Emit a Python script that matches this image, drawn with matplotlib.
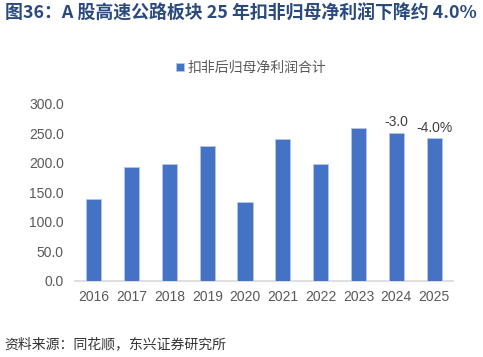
import numpy as np
import matplotlib.pyplot as plt

plt.rcParams['font.family'] = ['Noto Sans CJK SC', 'DejaVu Sans']

years = ['2016', '2017', '2018', '2019', '2020', '2021', '2022', '2023', '2024', '2025']
profit = [138, 193, 198, 229, 133.5, 241, 198, 259, 251, 242]
notes = {'2024': '-3.0', '2025': '-4.0%'}
yticks = [0, 50, 100, 150, 200, 250, 300]

bar_color = '#4472C4'
gray = '#595959'

fig = plt.figure(figsize=(4.83, 3.57), dpi=100)
ax = fig.add_axes([0.155, 0.214, 0.783, 0.495])

x = np.arange(len(years))
ax.bar(x, profit, width=0.4, color=bar_color, edgecolor='#b4c7e7', linewidth=0.6,
       label='扣非后归母净利润合计', zorder=3)

for i, yr in enumerate(years):
  if yr in notes:
    ax.text(i, profit[i] + 6, notes[yr], ha='center', va='bottom',
            fontsize=10, color='#404040', family=['Liberation Sans', 'DejaVu Sans'])

ax.set_xlim(-0.5, len(years) - 0.5)
ax.set_ylim(0, 300)
ax.set_xticks(x)
ax.set_xticklabels(years, family=['Liberation Sans', 'DejaVu Sans'])
ax.set_yticks(yticks)
ax.set_yticklabels(['%.1f' % v for v in yticks], family=['Liberation Sans', 'DejaVu Sans'])
ax.tick_params(axis='both', length=0, labelsize=10, labelcolor=gray)
ax.tick_params(axis='x', pad=7)
ax.tick_params(axis='y', pad=8)
for side in ['top', 'right', 'left']:
  ax.spines[side].set_visible(False)
ax.spines['bottom'].set_color('#d9d9d9')
ax.spines['bottom'].set_linewidth(1.2)

fig.legend(loc='center', bbox_to_anchor=(0.52, 0.81), frameon=False, fontsize=10,
           handlelength=0.6, handleheight=0.6, handletextpad=0.3, labelcolor=gray)

fig.text(0.01, 0.962, '图36：A 股高速公路板块 25 年扣非归母净利润下降约 4.0%',
         fontsize=12.9, fontweight='bold', color='#2A4A7F', va='center', ha='left')
fig.text(0.01, 0.035, '资料来源：同花顺，东兴证券研究所', fontsize=10,
         style='italic', color='#333333', va='center', ha='left')

plt.savefig('out.png', dpi=100)
